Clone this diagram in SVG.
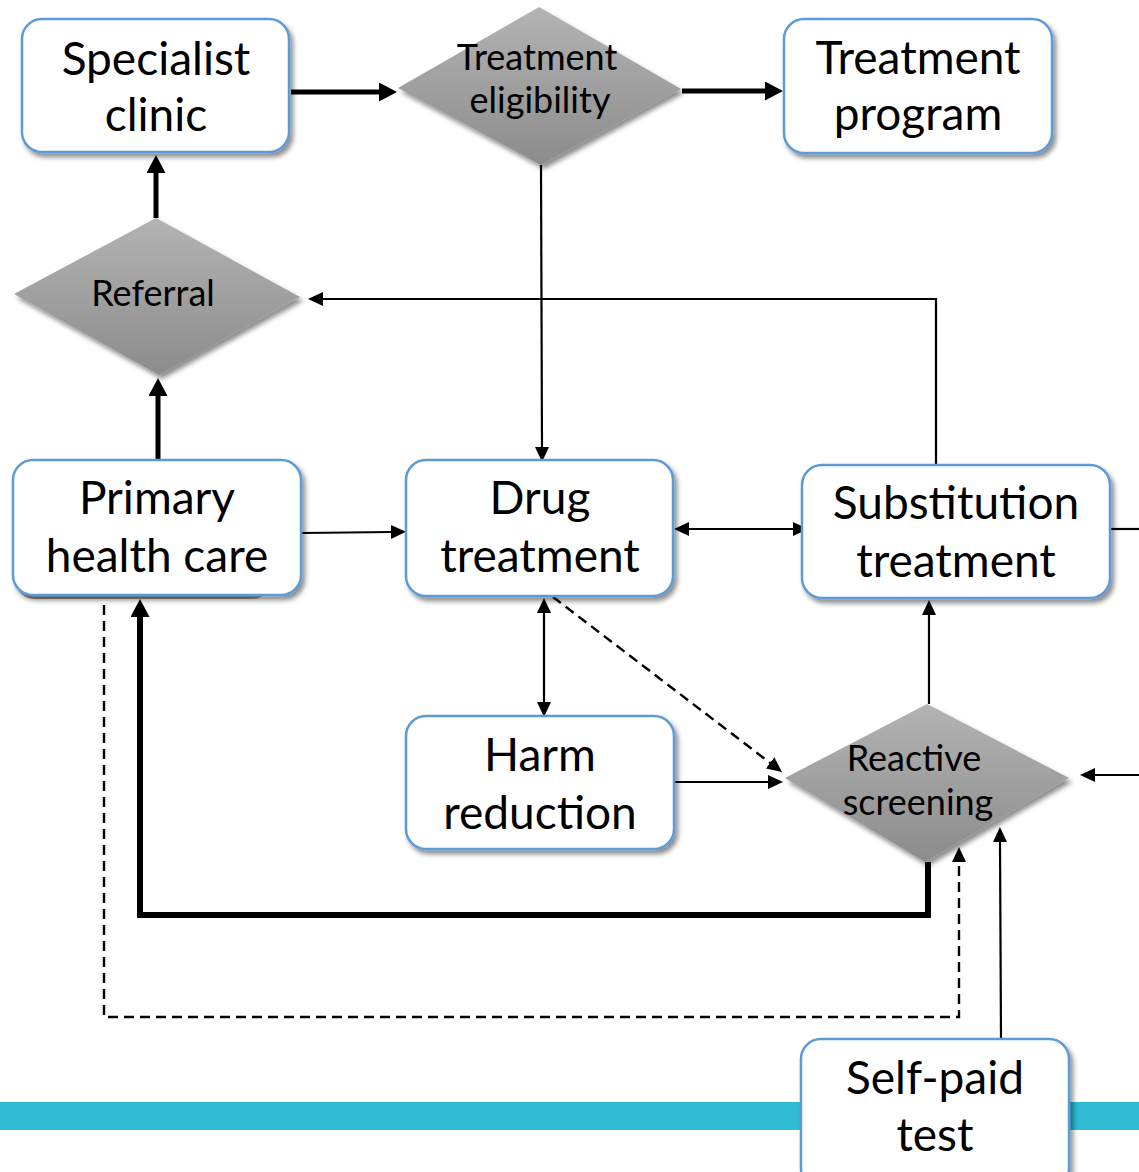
<svg xmlns="http://www.w3.org/2000/svg" width="1139" height="1172" viewBox="0 0 1139 1172">
<defs>
<style>
.box{fill:#fff;stroke:#5b9bd5;stroke-width:2.5;filter:url(#sh)}
.dia{fill:url(#g);filter:url(#sh)}
.big{font-family:Lato,"Liberation Sans",sans-serif;font-size:46px;fill:#000;text-anchor:middle}
.sm{font-family:Lato,"Liberation Sans",sans-serif;font-size:36px;fill:#000;text-anchor:middle}
.thin{stroke:#000;stroke-width:2.2;fill:none}
.thick{stroke:#000;stroke-width:5;fill:none}
.dash{stroke:#000;stroke-width:2.4;fill:none;stroke-dasharray:10 6}
</style>
<linearGradient id="g" x1="0" y1="0" x2="0" y2="1">
<stop offset="0" stop-color="#b3b3b3"/>
<stop offset="1" stop-color="#8c8c8c"/>
</linearGradient>
<filter id="sh" x="-10%" y="-10%" width="130%" height="130%">
<feDropShadow dx="3" dy="4" stdDeviation="2.5" flood-color="#000" flood-opacity="0.45"/>
</filter>
<marker id="at" markerUnits="userSpaceOnUse" viewBox="0 0 15 14" markerWidth="15" markerHeight="14" refX="1" refY="7" orient="auto-start-reverse">
<path d="M0,0L15,7L0,14z" fill="#000"/>
</marker>
<marker id="ak" markerUnits="userSpaceOnUse" viewBox="0 0 18 19" markerWidth="18" markerHeight="19" refX="1" refY="9.5" orient="auto">
<path d="M0,0L18,9.5L0,19z" fill="#000"/>
</marker>
</defs>
<rect id="band" x="0" y="1102" width="1139" height="28" fill="#2fbcd4"/>
<g id="connectors">
<path class="thick" d="M291,92L380,92" marker-end="url(#ak)"/>
<path class="thick" d="M682,91L766,91" marker-end="url(#ak)"/>
<path class="thick" d="M156,218L156,172" marker-end="url(#ak)"/>
<path class="thick" d="M158,460L158,395" marker-end="url(#ak)"/>
<path class="thin" d="M936,465L936,299L322,299" marker-end="url(#at)"/>
<path class="thin" d="M541,165L542,448" marker-end="url(#at)"/>
<path class="thin" d="M302,533L392,532" marker-end="url(#at)"/>
<path class="thin" d="M688,529L794,529" marker-start="url(#at)" marker-end="url(#at)"/>
<path class="thin" d="M1110,529L1139,529"/>
<path class="thin" d="M1139,775L1094,775" marker-end="url(#at)"/>
<path class="thin" d="M929,704L929,614" marker-end="url(#at)"/>
<path class="thin" d="M544,612L544,703" marker-start="url(#at)" marker-end="url(#at)"/>
<path class="thin" d="M674,782L769,782" marker-end="url(#at)"/>
<path class="dash" d="M553,597L770.9,763.5" marker-end="url(#at)"/>
<path class="thick" style="stroke-width:6" d="M928,862L928,915L140,915L140,616" marker-end="url(#ak)"/>
<path class="dash" d="M104,605L104,1017L959,1017L959,861" marker-end="url(#at)"/>
<path class="thin" d="M1001,1039L1000,841" marker-end="url(#at)"/>
</g>
<g id="specialist-clinic">
<rect class="box" x="22" y="19" width="267" height="133" rx="20"/>
<text class="big" x="156" y="75">Specialist</text>
<text class="big" x="156" y="131">clinic</text>
</g>
<g id="treatment-eligibility">
<polygon class="dia" points="539,7 681,89 541,165 398,88"/>
<text class="sm" x="537" y="70">Treatment</text>
<text class="sm" x="540" y="113">eligibility</text>
</g>
<g id="treatment-program">
<rect class="box" x="784" y="19" width="268" height="134" rx="20"/>
<text class="big" x="918" y="74">Treatment</text>
<text class="big" x="918" y="130">program</text>
</g>
<g id="referral">
<polygon class="dia" points="156,218 300,297 159,375 14,294"/>
<text class="sm" x="153" y="306">Referral</text>
</g>
<g id="primary-health-care">
<rect x="15" y="466" width="257" height="133" rx="20" fill="#9a9a9a"/>
<rect class="box" x="13" y="460" width="288" height="135" rx="20"/>
<text class="big" x="157" y="514">Primary</text>
<text class="big" x="157" y="572">health care</text>
</g>
<g id="drug-treatment">
<rect class="box" x="406" y="460" width="267" height="136" rx="20"/>
<text class="big" x="540" y="514">Drug</text>
<text class="big" x="540" y="572">treatment</text>
</g>
<g id="substitution-treatment">
<rect class="box" x="802" y="465" width="308" height="133" rx="20"/>
<text class="big" x="956" y="519">Substitution</text>
<text class="big" x="956" y="577">treatment</text>
</g>
<g id="harm-reduction">
<rect class="box" x="406" y="716" width="268" height="133" rx="20"/>
<text class="big" x="540" y="771">Harm</text>
<text class="big" x="540" y="829">reduction</text>
</g>
<g id="reactive-screening">
<polygon class="dia" points="927,704 1069,778 925,862 785,778"/>
<text class="sm" x="914" y="771">Reactive</text>
<text class="sm" x="918" y="815">screening</text>
</g>
<g id="self-paid-test">
<rect class="box" x="801" y="1039" width="268" height="150" rx="20"/>
<text class="big" x="935" y="1094">Self-paid</text>
<text class="big" x="935" y="1151">test</text>
</g>
</svg>
